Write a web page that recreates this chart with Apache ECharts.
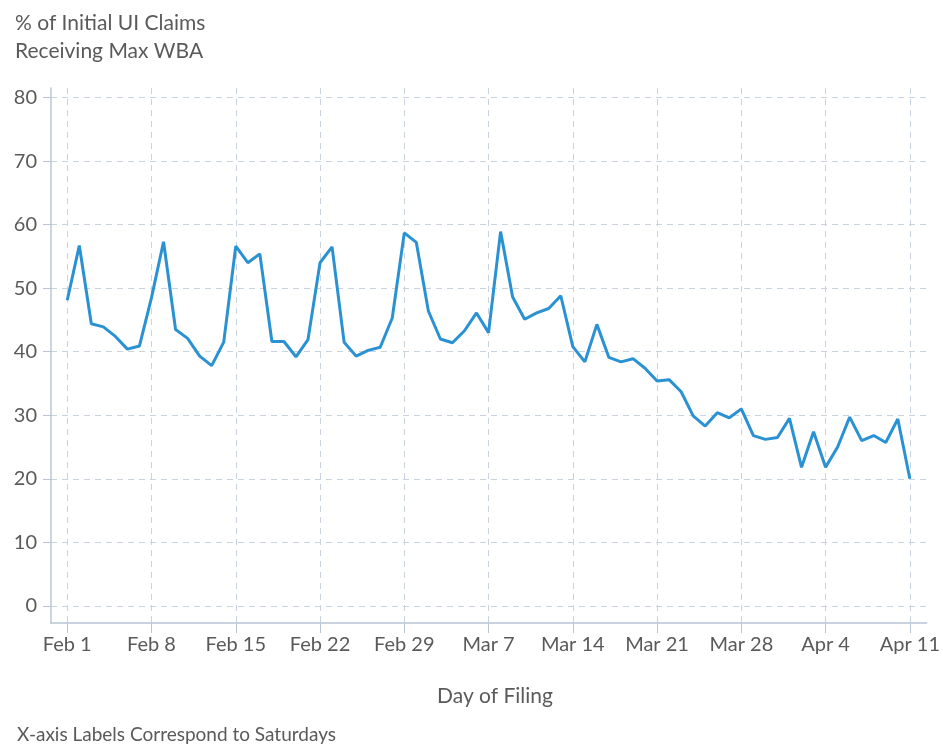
<!DOCTYPE html>
<html>
<head>
<meta charset="utf-8">
<script src="https://cdn.jsdelivr.net/npm/echarts@6/dist/echarts.min.js"></script>
<style>
  html, body { margin: 0; padding: 0; background: #fff; }
  #chart { width: 943px; height: 746px; }
</style>
</head>
<body>
<div id="chart"></div>
<script>
// days since Feb 1 2020, one value per day
var values = [
  48.1, 56.7, 44.4, 43.9, 42.4, 40.4, 40.9,
  48.5, 57.3, 43.5, 42.1, 39.3, 37.8, 41.5,
  56.6, 54.0, 55.4, 41.6, 41.6, 39.2, 41.9,
  54.0, 56.5, 41.5, 39.3, 40.2, 40.7, 45.3,
  58.7, 57.2, 46.4, 42.0, 41.4, 43.3, 46.1,
  43.0, 58.9, 48.6, 45.1, 46.1, 46.8, 48.8,
  40.8, 38.4, 44.3, 39.1, 38.4, 38.9, 37.4,
  35.4, 35.6, 33.7, 29.9, 28.3, 30.4, 29.6,
  31.0, 26.8, 26.2, 26.5, 29.5, 21.8, 27.4,
  21.8, 25.0, 29.7, 26.0, 26.8, 25.7, 29.4,
  20.0
];
var tickDays = [0, 7, 14, 21, 28, 35, 42, 49, 56, 63, 70];
var tickLabels = ['Feb 1', 'Feb 8', 'Feb 15', 'Feb 22', 'Feb 29', 'Mar 7',
                  'Mar 14', 'Mar 21', 'Mar 28', 'Apr 4', 'Apr 11'];
var yTicks = [0, 10, 20, 30, 40, 50, 60, 70, 80];

var font = 'Lato, "Open Sans", sans-serif';
var txt = '#5a5a5a';
var gridCol = '#c9d3e0';
var axisCol = '#b9c6d8';

var points = [];
for (var i = 0; i < values.length; i++) points.push([i, values[i]]);

var chart = echarts.init(document.getElementById('chart'));
chart.setOption({
  backgroundColor: '#fff',
  animation: false,
  textStyle: { fontFamily: font },
  title: [
    {
      text: '% of Initial UI Claims\nReceiving Max WBA',
      left: 10, top: 4,
      textStyle: { fontFamily: font, fontWeight: 'normal', fontSize: 21, color: txt, lineHeight: 28 }
    },
    {
      text: 'Day of Filing',
      left: 490, top: 681, textAlign: 'center',
      textStyle: { fontFamily: font, fontWeight: 'normal', fontSize: 21, color: txt }
    },
    {
      text: 'X-axis Labels Correspond to Saturdays',
      left: 12, top: 720,
      textStyle: { fontFamily: font, fontWeight: 'normal', fontSize: 19, color: txt }
    }
  ],
  grid: { left: 51, right: 16, top: 88, bottom: 123, containLabel: false },
  xAxis: {
    type: 'value',
    min: -1.35,
    max: 71.4,
    axisLine: { onZero: false, lineStyle: { color: axisCol, width: 1.5 } },
    axisTick: { customValues: tickDays, length: 10, lineStyle: { color: axisCol } },
    axisLabel: {
      customValues: tickDays,
      margin: 12,
      fontSize: 20,
      color: txt,
      formatter: function (v) { return tickLabels[tickDays.indexOf(Math.round(v))] || ''; }
    },
    splitLine: { show: true, lineStyle: { color: gridCol, type: [6, 5], width: 1 } }
  },
  yAxis: {
    type: 'value',
    min: -2.7,
    max: 81.5,
    axisLine: { show: true, onZero: false, lineStyle: { color: axisCol, width: 1.5 } },
    axisTick: { show: true, customValues: yTicks, length: 8, lineStyle: { color: axisCol } },
    axisLabel: { customValues: yTicks, margin: 14, fontSize: 20, color: txt },
    splitLine: { show: true, lineStyle: { color: gridCol, type: [6, 5], width: 1 } }
  },
  series: [
    {
      type: 'line',
      data: points,
      showSymbol: false,
      lineStyle: { color: '#2a92d2', width: 3 },
      itemStyle: { color: '#2a92d2' }
    }
  ]
});
</script>
</body>
</html>
